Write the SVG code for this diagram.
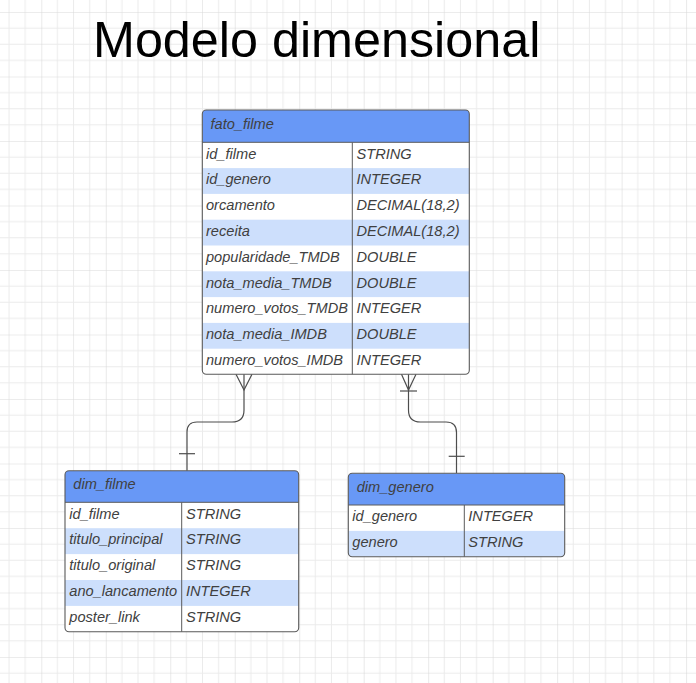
<svg xmlns="http://www.w3.org/2000/svg" width="696" height="683" viewBox="0 0 696 683">
<defs>
<pattern id="grid" patternUnits="userSpaceOnUse" x="41.3" y="12" width="64.48" height="64.5">
<path d="M16.12,0V64.5M32.24,0V64.5M48.36,0V64.5M0,16.12H64.48M0,32.24H64.48M0,48.36H64.48" stroke="#ebebeb" stroke-width="1" fill="none"/>
<path d="M0,0V64.5M0,0H64.48" stroke="#dadada" stroke-width="1.2" fill="none"/>
</pattern>
<clipPath id="cF"><rect x="202.3" y="110" width="267" height="264.3" rx="4"/></clipPath>
<clipPath id="cD"><rect x="65" y="470.7" width="233.7" height="161" rx="4"/></clipPath>
<clipPath id="cG"><rect x="348.3" y="473.3" width="216.4" height="83.4" rx="4"/></clipPath>
</defs>
<style>
.t{font-family:"Liberation Sans",Arial,sans-serif;font-style:italic;font-size:14.6px;fill:#404040}
.h{fill:#6898f6}
.b{fill:#cddffc}
.ln{stroke:#5a5a5a;stroke-width:1;fill:none}
.bd{fill:none;stroke:#5a5a5a;stroke-width:1.1}
.c{stroke:#4d4d4d;stroke-width:1.2;fill:none}
</style>
<rect width="696" height="683" fill="#ffffff"/>
<rect width="696" height="683" fill="url(#grid)"/>
<text x="93" y="57" style="font-family:'Liberation Sans',Arial,sans-serif;font-size:50.3px;fill:#000">Modelo dimensional</text>

<g id="connectors">
<path class="c" d="M244,374.3V410Q244,422 232,422H197Q187,422 187,432V470.7"/>
<path class="c" d="M236,374.3L244,390L252,374.3"/>
<path class="c" d="M179,453.7H195"/>
<path class="c" d="M408.5,374.3V410Q408.5,422 420.5,422H446Q456.5,422 456.5,432.5V473.3"/>
<path class="c" d="M401.5,374.3L408.5,390L416,374.3"/>
<path class="c" d="M400,391H417"/>
<path class="c" d="M448.7,456.3H464.7"/>
</g>

<g id="fato_filme">
<g clip-path="url(#cF)">
<rect x="202.3" y="110" width="267" height="264.3" fill="#fff"/>
<rect class="h" x="202.3" y="110" width="267" height="32.3"/>
<rect class="b" x="202.3" y="168.1" width="267" height="25.8"/>
<rect class="b" x="202.3" y="219.7" width="267" height="25.8"/>
<rect class="b" x="202.3" y="271.3" width="267" height="25.8"/>
<rect class="b" x="202.3" y="322.9" width="267" height="25.8"/>
</g>
<path class="ln" d="M202.3,142.3H469.3M352.3,142.3V374.3"/>
<rect class="bd" x="202.3" y="110" width="267" height="264.3" rx="4"/>
<text class="t" x="210.5" y="129">fato_filme</text>
<text class="t" x="206" y="158.5">id_filme</text><text class="t" x="356.5" y="158.5">STRING</text>
<text class="t" x="206" y="184.3">id_genero</text><text class="t" x="356.5" y="184.3">INTEGER</text>
<text class="t" x="206" y="210.1">orcamento</text><text class="t" x="356.5" y="210.1">DECIMAL(18,2)</text>
<text class="t" x="206" y="235.9">receita</text><text class="t" x="356.5" y="235.9">DECIMAL(18,2)</text>
<text class="t" x="206" y="261.7">popularidade_TMDB</text><text class="t" x="356.5" y="261.7">DOUBLE</text>
<text class="t" x="206" y="287.5">nota_media_TMDB</text><text class="t" x="356.5" y="287.5">DOUBLE</text>
<text class="t" x="206" y="313.3">numero_votos_TMDB</text><text class="t" x="356.5" y="313.3">INTEGER</text>
<text class="t" x="206" y="339.1">nota_media_IMDB</text><text class="t" x="356.5" y="339.1">DOUBLE</text>
<text class="t" x="206" y="364.9">numero_votos_IMDB</text><text class="t" x="356.5" y="364.9">INTEGER</text>
</g>

<g id="dim_filme">
<g clip-path="url(#cD)">
<rect x="65" y="470.7" width="233.7" height="161" fill="#fff"/>
<rect class="h" x="65" y="470.7" width="233.7" height="31.6"/>
<rect class="b" x="65" y="528.2" width="233.7" height="25.9"/>
<rect class="b" x="65" y="580" width="233.7" height="25.9"/>
</g>
<path class="ln" d="M65,502.3H298.7M181.7,502.3V631.7"/>
<rect class="bd" x="65" y="470.7" width="233.7" height="161" rx="4"/>
<text class="t" x="73.3" y="489">dim_filme</text>
<text class="t" x="69.3" y="518.5">id_filme</text><text class="t" x="186" y="518.5">STRING</text>
<text class="t" x="69.3" y="544.4">titulo_principal</text><text class="t" x="186" y="544.4">STRING</text>
<text class="t" x="69.3" y="570.3">titulo_original</text><text class="t" x="186" y="570.3">STRING</text>
<text class="t" x="69.3" y="596.2">ano_lancamento</text><text class="t" x="186" y="596.2">INTEGER</text>
<text class="t" x="69.3" y="622.1">poster_link</text><text class="t" x="186" y="622.1">STRING</text>
</g>

<g id="dim_genero">
<g clip-path="url(#cG)">
<rect x="348.3" y="473.3" width="216.4" height="83.4" fill="#fff"/>
<rect class="h" x="348.3" y="473.3" width="216.4" height="31.7"/>
<rect class="b" x="348.3" y="530.9" width="216.4" height="25.8"/>
</g>
<path class="ln" d="M348.3,505H564.7M464.3,505V556.7"/>
<rect class="bd" x="348.3" y="473.3" width="216.4" height="83.4" rx="4"/>
<text class="t" x="356.7" y="492">dim_genero</text>
<text class="t" x="352.3" y="521.2">id_genero</text><text class="t" x="468.3" y="521.2">INTEGER</text>
<text class="t" x="352.3" y="547">genero</text><text class="t" x="468.3" y="547">STRING</text>
</g>
</svg>
